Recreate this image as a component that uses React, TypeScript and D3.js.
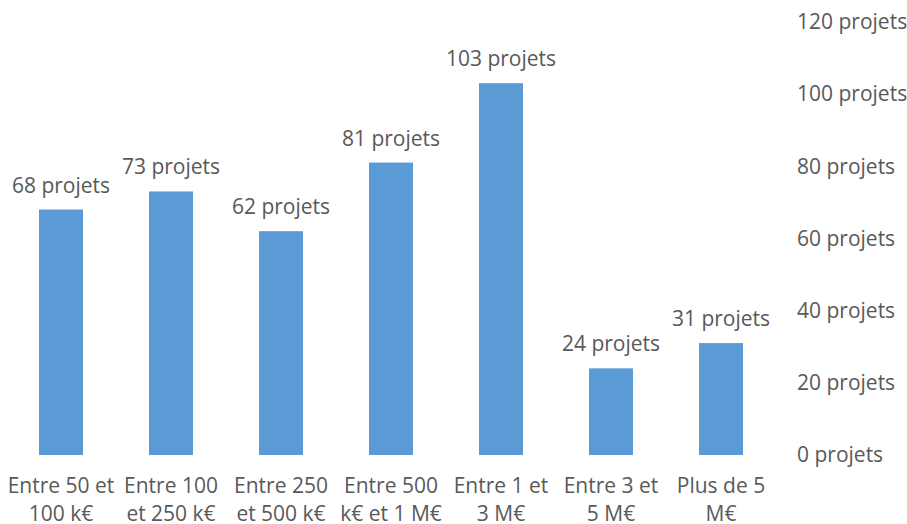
import React from "react";
import * as d3 from "d3";

const categories = [
  "Entre 50 et 100 k€",
  "Entre 100 et 250 k€",
  "Entre 250 et 500 k€",
  "Entre 500 k€ et 1 M€",
  "Entre 1 et 3 M€",
  "Entre 3 et 5 M€",
  "Plus de 5 M€",
];
const categoryLines = [
  ["Entre 50 et", "100 k€"],
  ["Entre 100", "et 250 k€"],
  ["Entre 250", "et 500 k€"],
  ["Entre 500", "k€ et 1 M€"],
  ["Entre 1 et", "3 M€"],
  ["Entre 3 et", "5 M€"],
  ["Plus de 5", "M€"],
];
const values = [68, 73, 62, 81, 103, 24, 31];
const yTicks = [0, 20, 40, 60, 80, 100, 120];

const W = 907;
const H = 524;
const FONT = "'Open Sans', sans-serif";
const TEXT = "#595959";
const BAR = "#5B9BD5";
const FS = 21;

export default function App() {
  const x = d3
    .scaleBand<string>()
    .domain(categories)
    .range([6, 776])
    .paddingInner(0.6)
    .paddingOuter(0.3);
  const y = d3.scaleLinear().domain([0, 120]).range([455, 21.8]);

  return (
    <svg
      width={W}
      height={H}
      style={{ position: "absolute", left: 0, top: 0, background: "#fff" }}
      fontFamily={FONT}
    >
      {categories.map((c, i) => {
        const bx = x(c)!;
        const bw = x.bandwidth();
        const cx = bx + bw / 2;
        return (
          <g key={c}>
            <rect x={bx} y={y(values[i])} width={bw} height={y(0) - y(values[i])} fill={BAR} />
            <text x={cx} y={y(values[i]) - 17} textAnchor="middle" fontSize={FS} fill={TEXT}>
              {values[i]} projets
            </text>
            {categoryLines[i].map((ln, j) => (
              <text key={j} x={cx} y={493 + j * 27.5} textAnchor="middle" fontSize={FS} fill={TEXT}>
                {ln}
              </text>
            ))}
          </g>
        );
      })}
      {yTicks.map((t) => (
        <text key={t} x={797} y={y(t)} dy="0.35em" textAnchor="start" fontSize={FS} fill={TEXT}>
          {t} projets
        </text>
      ))}
    </svg>
  );
}
